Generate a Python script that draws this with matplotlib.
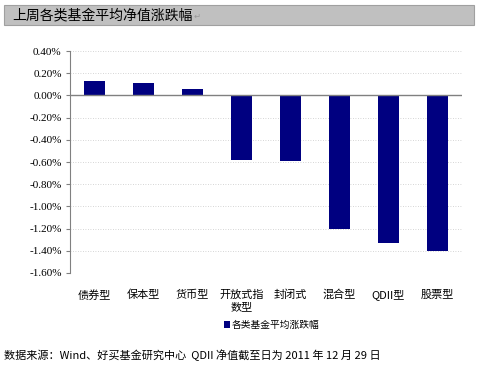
import matplotlib
matplotlib.use('Agg')
import matplotlib.pyplot as plt
from matplotlib.patches import Rectangle

plt.rcParams['font.family'] = ['Noto Sans CJK SC', 'DejaVu Sans']

categories = ['债券型', '保本型', '货币型', '开放式指\n数型', '封闭式', '混合型', 'QDII型', '股票型']
values = [0.13, 0.11, 0.06, -0.58, -0.59, -1.20, -1.33, -1.40]
series_name = '各类基金平均涨跌幅'
yticks = [0.4, 0.2, 0.0, -0.2, -0.4, -0.6, -0.8, -1.0, -1.2, -1.4, -1.6]

W, H = 478, 373
fig = plt.figure(figsize=(W / 100, H / 100), dpi=100)

# title bar
fig.patches.append(Rectangle((4 / W, 1 - 25 / H), 470 / W, 20 / H, transform=fig.transFigure,
                             facecolor='#c0c0c0', edgecolor='#a0a0a0', linewidth=0.8))
title = fig.text(12 / W, 1 - 15 / H, '上周各类基金平均净值涨跌幅', fontsize=10, va='center', ha='left')
fig.canvas.draw()
bb = title.get_window_extent()
fig.text(bb.x1 / W + 1 / W, 1 - 16 / H, '↵', fontsize=6, va='center', ha='left', color='#999999')

ax = fig.add_axes([70 / W, 1 - 273 / H, 392 / W, 222 / H])
x = list(range(len(categories)))
ax.bar(x, values, width=0.42, color='#000080', zorder=3, label=series_name)
ax.set_xlim(-0.5, len(categories) - 0.5)
ax.set_ylim(-1.6, 0.4)
ax.set_yticks(yticks)
ax.set_yticklabels([f'{v:.2f}%' for v in yticks], fontfamily='Liberation Serif', fontsize=8)
ax.yaxis.grid(True, linestyle=(0, (1, 2)), color='#c8c8c8', linewidth=0.6, zorder=0)
ax.axhline(0, color='#808080', linewidth=1, zorder=4)
for s in ['top', 'right', 'bottom']:
    ax.spines[s].set_visible(False)
ax.spines['left'].set_color('#808080')
ax.tick_params(axis='y', length=3, color='#808080', pad=3)
ax.tick_params(axis='x', length=0, pad=12)
ax.set_xticks(x)
ax.set_xticklabels(categories, fontsize=8, va='top', ha='center', linespacing=1.25,
                   multialignment='center')

leg = fig.legend(loc='center', bbox_to_anchor=(272 / W, 1 - 325 / H), frameon=False,
                 fontsize=7, handlelength=0.6, handleheight=0.6, handletextpad=0.2)

fig.text(4 / W, 1 - 355 / H, '数据来源：Wind、好买基金研究中心  QDII 净值截至日为 2011 年 12 月 29 日',
         fontsize=8, va='center', ha='left')

fig.savefig('out.png', dpi=100)
